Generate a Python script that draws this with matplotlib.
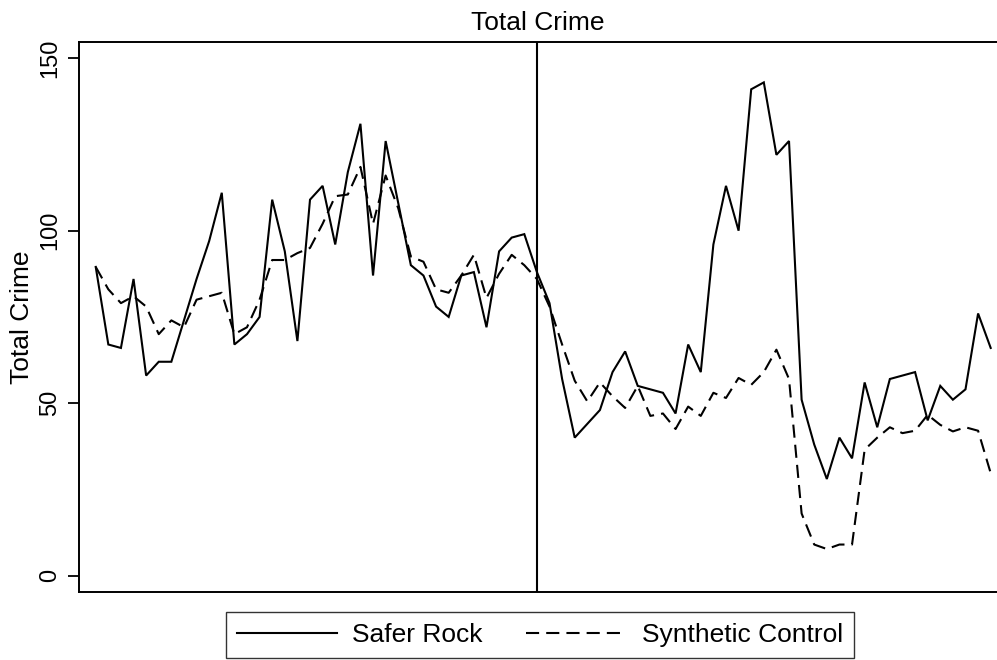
#!/usr/bin/env python3
"""
Total crime: Safer Rock vs its synthetic control, one line each,
with a vertical marker at the intervention period.
"""

import matplotlib
matplotlib.use("Agg")
import matplotlib.pyplot as plt


# Period index (no tick labels are shown on the x axis).
periods = list(range(1, 73))
intervention = 36

safer_rock = [
    89.5, 67, 66, 86, 58, 62, 62, 74, 86, 97,
    111, 67, 70, 75, 109, 94, 68, 109, 113, 96,
    117, 131, 87, 126, 108, 90, 87, 78, 75, 87,
    88, 72, 94, 98, 99, 88, 79, 57, 40, 44,
    48, 59, 65, 55, 54, 53, 47, 67, 59, 96,
    113, 100, 141, 143, 122, 126, 51, 38, 28, 40,
    34, 56, 43, 57, 58, 59, 45, 55, 51, 54,
    76, 66,
]

synthetic = [
    89.5, 83, 79, 81, 78, 70, 74, 72, 80, 81,
    82, 70, 72, 80, 91.5, 91.5, 93.5, 95, 102, 110,
    110.5, 118.5, 102, 116, 106.5, 92.5, 91, 83, 82, 87,
    93, 80.5, 87.5, 93, 90, 86, 78, 67, 56.5, 50.5,
    56, 52, 48.6, 55, 46.3, 47, 42.5, 49, 46.3, 53,
    51.5, 57.3, 55.3, 59, 65.5, 57, 18, 9, 7.7, 9,
    9, 36.5, 40, 43, 41.3, 42, 46.6, 43.7, 41.8, 43,
    42, 29.7,
]

y_ticks = [0, 50, 100, 150]
title = "Total Crime"
series_labels = ["Safer Rock", "Synthetic Control"]


def main():
    plt.rcParams["font.family"] = ["Liberation Sans", "DejaVu Sans"]

    fig = plt.figure(figsize=(9.97, 6.6), dpi=100)
    ax = fig.add_axes([0.0797, 0.1023, 0.9203, 0.834])

    lw = 1.5
    ax.plot(periods, safer_rock, color="black", linewidth=lw,
            solid_joinstyle="miter", label=series_labels[0])
    ax.plot(periods, synthetic, color="black", linewidth=lw,
            linestyle=(0, (6.3, 3.4)), label=series_labels[1])
    ax.axvline(intervention, color="black", linewidth=lw)

    ax.set_xlim(-0.29, 72.5)
    ax.set_ylim(-4.9, 154.7)

    # Stata-like frame: no x ticks, rotated y tick labels.
    ax.set_xticks([])
    ax.set_yticks(y_ticks)
    ax.set_yticklabels([str(t) for t in y_ticks], rotation=90, va="center")
    ax.tick_params(axis="y", direction="out", length=8, width=1.3,
                   labelsize=17, pad=5)
    for side in ("left", "bottom", "top"):
        ax.spines[side].set_linewidth(1.4)
    ax.spines["right"].set_visible(False)

    ax.set_ylabel(title, fontsize=19, labelpad=4)
    ax.set_title(title, fontsize=19, pad=9)

    leg = fig.legend(
        loc="center", bbox_to_anchor=(0.5416, 0.038), ncol=2,
        fontsize=19, frameon=True, fancybox=False, edgecolor="black",
        handlelength=3.8, handletextpad=0.57, columnspacing=1.65,
        borderpad=0.42,
    )
    leg.get_frame().set_linewidth(1.0)

    fig.savefig("out.png", dpi=100)


if __name__ == "__main__":
    main()
